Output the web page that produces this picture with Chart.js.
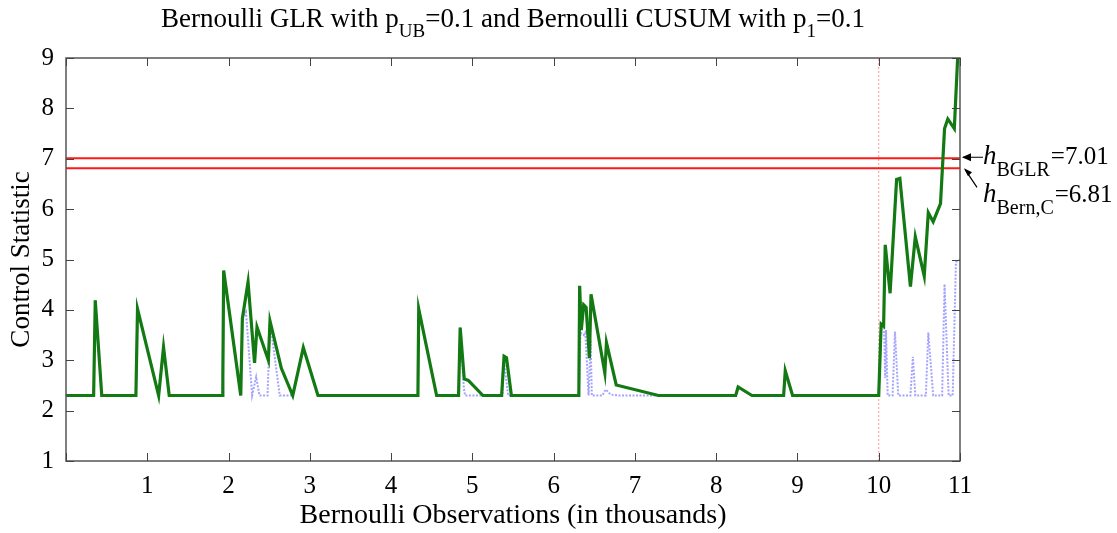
<!DOCTYPE html>
<html>
<head>
<meta charset="utf-8">
<script src="https://cdn.jsdelivr.net/npm/chart.js@4.4.1/dist/chart.umd.min.js"></script>
<style>
  html, body { margin: 0; padding: 0; background: #fff; }
  #wrap { width: 1117px; height: 533px; position: relative; }
</style>
</head>
<body>
<div id="wrap"><canvas id="chart" width="1117" height="533"></canvas></div>
<script>
// Bernoulli GLR statistic (x in thousands of observations)
const glrX = [0, 0.34, 0.36, 0.44, 0.86, 0.88, 1.14, 1.20, 1.27, 1.92, 1.93, 1.94, 2.15, 2.17, 2.24, 2.32, 2.35, 2.49, 2.51, 2.65, 2.79, 2.92, 3.10,
  4.33, 4.34, 4.56, 4.83, 4.85, 4.90, 4.95, 5.13, 5.36, 5.39, 5.42, 5.48,
  6.31, 6.32, 6.34, 6.37, 6.40, 6.44, 6.46, 6.63, 6.65, 6.77, 7.29, 8.24, 8.27, 8.44, 8.83, 8.85, 8.94,
  10.0, 10.03, 10.06, 10.08, 10.14, 10.22, 10.26, 10.39, 10.45, 10.56, 10.61, 10.67, 10.76, 10.81, 10.85, 10.93, 10.97, 10.99];
const glrY = [2.3, 2.3, 4.19, 2.3, 2.3, 4.02, 2.3, 3.26, 2.3, 2.3, 2.7, 4.78, 2.3, 3.83, 4.55, 2.95, 3.66, 3.0, 3.78, 2.84, 2.3, 3.25, 2.3,
  2.3, 4.02, 2.3, 2.3, 3.65, 2.63, 2.6, 2.3, 2.3, 3.08, 3.05, 2.3,
  2.3, 4.48, 3.6, 4.10, 4.05, 3.04, 4.31, 2.75, 3.35, 2.51, 2.3, 2.3, 2.47, 2.3, 2.3, 2.79, 2.3,
  2.3, 3.72, 3.68, 5.29, 4.33, 6.59, 6.61, 4.46, 5.45, 4.67, 5.93, 5.75, 6.11, 7.60, 7.79, 7.60, 8.96, 9.6];

// Bernoulli CUSUM statistic
const cusumX = [0, 0.34, 0.36, 0.44, 0.86, 0.88, 1.14, 1.20, 1.27,
  1.92, 1.93, 1.94, 2.15, 2.17, 2.215, 2.29, 2.34, 2.38, 2.48, 2.51, 2.63,
  2.79, 2.92, 3.10, 4.33, 4.34, 4.56,
  4.83, 4.85, 4.895, 4.91, 5.37, 5.39, 5.44,
  6.31, 6.33, 6.37, 6.39, 6.43, 6.455, 6.47, 6.60, 6.64, 6.70, 6.80,
  8.24, 8.27, 8.44, 8.83, 8.85, 8.94,
  10.0, 10.03, 10.065, 10.08, 10.09, 10.11, 10.17, 10.20, 10.24, 10.39, 10.42, 10.45,
  10.58, 10.61, 10.67, 10.78, 10.81, 10.86, 10.91, 10.95, 11.0];
const cusumY = [2.3, 2.3, 4.19, 2.3, 2.3, 4.02, 2.3, 3.26, 2.3,
  2.3, 2.7, 4.78, 2.3, 3.83, 3.96, 2.3, 2.67, 2.3, 2.3, 3.78, 2.3,
  2.3, 3.25, 2.3, 2.3, 4.02, 2.3,
  2.3, 3.65, 2.45, 2.3, 2.3, 3.0, 2.3,
  2.3, 3.55, 3.5, 3.55, 2.3, 3.4, 2.3, 2.3, 2.42, 2.32, 2.3,
  2.3, 2.47, 2.3, 2.3, 2.79, 2.3,
  2.3, 3.7, 3.65, 2.65, 3.6, 2.3, 2.3, 3.57, 2.3, 2.3, 3.07, 2.3,
  2.3, 3.55, 2.3, 2.3, 4.51, 2.3, 2.3, 4.95, 5.0];

// control limits
const limitValues = [7.01, 6.81];
const limitLabels = [['BGLR', '=7.01'], ['Bern,C', '=6.81']];
const changePoint = 10;

const xTicks = [0, 1, 2, 3, 4, 5, 6, 7, 8, 9, 10, 11];
const yTicks = [1, 2, 3, 4, 5, 6, 7, 8, 9];

const SERIF = '"Liberation Serif", "Times New Roman", serif';

function toPoints(xs, ys) {
    return xs.map((x, i) => ({ x: x, y: ys[i] }));
}

// frame, inward ticks, title and limit labels
const decorPlugin = {
    id: 'decor',
    afterDatasetsDraw(chart) {
        const { ctx, chartArea: a, scales } = chart;
        const xs = scales.x, ys = scales.y;
        ctx.save();
        ctx.strokeStyle = '#555';
        ctx.lineWidth = 1.5;
        ctx.strokeRect(a.left, a.top, a.right - a.left, a.bottom - a.top);
        ctx.lineWidth = 1;
        ctx.strokeStyle = '#444';
        ctx.beginPath();
        xTicks.forEach(v => {
            const px = Math.round(xs.getPixelForValue(v)) + 0.5;
            ctx.moveTo(px, a.bottom); ctx.lineTo(px, a.bottom - 8);
            ctx.moveTo(px, a.top); ctx.lineTo(px, a.top + 8);
        });
        yTicks.forEach(v => {
            const py = Math.round(ys.getPixelForValue(v)) + 0.5;
            ctx.moveTo(a.left, py); ctx.lineTo(a.left + 8, py);
            ctx.moveTo(a.right, py); ctx.lineTo(a.right - 8, py);
        });
        ctx.stroke();

        // title with subscripts
        ctx.fillStyle = '#000';
        ctx.textBaseline = 'alphabetic';
        const parts = [
            ['Bernoulli GLR with p', 0], ['UB', 1], ['=0.1 and Bernoulli CUSUM with p', 0], ['1', 1], ['=0.1', 0]
        ];
        const big = '27px ' + SERIF, small = '19px ' + SERIF;
        let total = 0;
        parts.forEach(p => { ctx.font = p[1] ? small : big; total += ctx.measureText(p[0]).width; });
        let tx = (a.left + a.right) / 2 - total / 2;
        parts.forEach(p => {
            ctx.font = p[1] ? small : big;
            ctx.fillText(p[0], tx, p[1] ? 37 : 27);
            tx += ctx.measureText(p[0]).width;
        });

        // limit labels with arrows
        const y1 = ys.getPixelForValue(limitValues[0]);
        const y2 = ys.getPixelForValue(limitValues[1]);
        ctx.strokeStyle = '#000';
        ctx.lineWidth = 1.2;
        ctx.beginPath();
        ctx.moveTo(983, y1 - 1); ctx.lineTo(a.right + 3, y1 - 1);
        ctx.moveTo(977, y2 + 19); ctx.lineTo(a.right + 5, y2 + 1);
        ctx.stroke();
        ctx.fillStyle = '#000';
        ctx.beginPath();
        ctx.moveTo(a.right + 2, y1 - 1); ctx.lineTo(a.right + 11, y1 - 5); ctx.lineTo(a.right + 11, y1 + 3);
        ctx.closePath(); ctx.fill();
        ctx.beginPath();
        ctx.moveTo(a.right + 4, y2); ctx.lineTo(a.right + 8, y2 + 8); ctx.lineTo(a.right + 12, y2 + 4);
        ctx.closePath(); ctx.fill();

        const rows = [[983, 164], [983, 202]];
        rows.forEach((r, i) => {
            let x = r[0];
            ctx.font = 'italic 27px ' + SERIF;
            ctx.fillText('h', x, r[1]);
            x += ctx.measureText('h').width;
            ctx.font = '20px ' + SERIF;
            ctx.fillText(limitLabels[i][0], x, r[1] + 12);
            x += ctx.measureText(limitLabels[i][0]).width + 1;
            ctx.font = '25px ' + SERIF;
            ctx.fillText(limitLabels[i][1], x, r[1]);
        });
        ctx.restore();
    }
};

const ctx = document.getElementById('chart');
new Chart(ctx, {
    type: 'line',
    data: {
        datasets: [
            {
                label: 'change point',
                data: [{ x: changePoint, y: 1 }, { x: changePoint, y: 9 }],
                borderColor: 'rgba(255,110,110,0.7)',
                borderWidth: 1,
                borderDash: [2, 2],
                pointRadius: 0,
                order: 4,
            },
            {
                label: 'Bernoulli CUSUM',
                data: toPoints(cusumX, cusumY),
                borderColor: 'rgba(90,90,255,0.55)',
                borderWidth: 2,
                borderDash: [2, 1.5],
                pointRadius: 0,
                tension: 0,
                order: 3,
            },
            {
                label: 'Bernoulli GLR',
                data: toPoints(glrX, glrY),
                borderColor: '#137a13',
                borderWidth: 3.2,
                pointRadius: 0,
                tension: 0,
                order: 1,
            },
            ...limitValues.map(v => ({
                label: 'h = ' + v,
                data: [{ x: 0, y: v }, { x: 11, y: v }],
                borderColor: '#ff1a1a',
                borderWidth: 2,
                pointRadius: 0,
                order: 2,
            })),
        ],
    },
    options: {
        responsive: false,
        animation: false,
        events: [],
        layout: { padding: { top: 58, right: 157, left: 0, bottom: 0 } },
        plugins: {
            legend: { display: false },
            tooltip: { enabled: false },
        },
        scales: {
            x: {
                type: 'linear',
                min: 0,
                max: 11,
                afterFit: s => { s.height = 72; },
                afterBuildTicks: s => { s.ticks = xTicks.map(v => ({ value: v })); },
                grid: { display: false, drawTicks: false },
                border: { display: false },
                ticks: {
                    padding: 10,
                    color: '#000',
                    font: { family: SERIF, size: 25 },
                    callback: v => (v === 0 ? '' : String(v)),
                },
                title: {
                    display: true,
                    text: 'Bernoulli Observations (in thousands)',
                    color: '#000',
                    font: { family: SERIF, size: 28 },
                    padding: { top: 0, bottom: 1 },
                },
            },
            y: {
                min: 1,
                max: 9,
                afterFit: s => { s.width = 66; },
                afterBuildTicks: s => { s.ticks = yTicks.map(v => ({ value: v })); },
                grid: { display: false, drawTicks: false },
                border: { display: false },
                ticks: {
                    padding: 12,
                    color: '#000',
                    font: { family: SERIF, size: 25 },
                },
                title: {
                    display: true,
                    text: 'Control Statistic',
                    color: '#000',
                    font: { family: SERIF, size: 27 },
                    padding: { top: 6, bottom: 0 },
                },
            },
        },
    },
    plugins: [decorPlugin],
});
</script>
</body>
</html>
